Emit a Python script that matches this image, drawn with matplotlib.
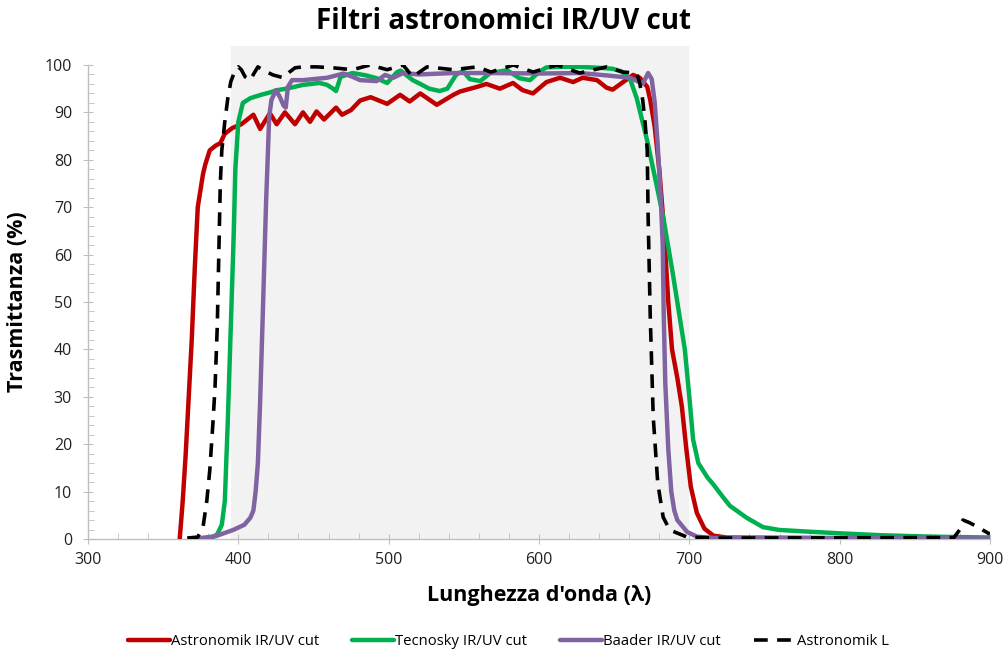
import matplotlib.pyplot as plt
import numpy as np
from matplotlib.patches import Rectangle
from matplotlib.ticker import MultipleLocator

plt.rcParams['font.family'] = ['Open Sans', 'DejaVu Sans']

# Astronomik IR/UV cut
red_x = [361, 363, 365, 367, 369, 371, 373, 376.5, 378, 381, 385, 388, 391, 396, 402,
         406, 410, 414.5, 418, 421, 425.5, 431, 437.7, 443, 447.7, 452, 457, 465, 469,
         475, 481, 488, 499, 507.6, 514, 521, 532, 543, 547.5, 559, 565, 574, 582.7,
         589, 596, 605, 614, 622.7, 629, 638.6, 645, 649, 656, 662.6, 667, 672, 674,
         677, 680, 683, 686, 688.5, 692, 695, 698, 701, 705, 710, 716, 725, 800, 900]
red_y = [0, 8, 18, 30, 42, 57, 70, 77, 79, 82, 83, 83.5, 85.5, 86.7, 87.5,
         88.5, 89.5, 86.5, 88.3, 89.8, 87.5, 90, 87.5, 90, 88, 90.2, 88.5, 91, 89.5,
         90.5, 92.5, 93.2, 91.8, 93.7, 92.3, 94, 91.6, 93.7, 94.4, 95.4, 96, 95, 96.2,
         94.7, 94, 96.4, 97.3, 96.4, 97.3, 96.8, 95.2, 94.8, 96.4, 97.9, 97.3, 95.4, 92.6,
         86.9, 78, 66, 50, 40, 34, 28, 19, 11, 5.5, 2.2, 0.7, 0.3, 0.2, 0.2]

# Tecnosky IR/UV cut
green_x = [381, 386, 389, 391, 393, 395, 397, 398, 400, 403, 408, 415, 421, 426, 432,
           443, 454, 459, 463, 465, 468, 476, 485, 492, 499, 505.6, 508, 516, 521, 527,
           534, 539, 545, 549.5, 554, 561, 567.5, 578.8, 587, 594, 600, 605, 615, 627,
           640, 649, 655, 660.6, 665, 672, 678, 682.6, 689, 693, 697, 700, 702.5, 706,
           712, 716, 722, 727, 738, 749, 760, 782, 800, 827, 860, 900]
green_y = [0, 1, 3, 8, 25, 45, 65, 78, 88, 92, 93, 93.7, 94.2, 94.7, 95,
           95.8, 96.2, 95.8, 95, 94.5, 97.5, 98.3, 97.8, 97.2, 96.2, 98.5, 98.8, 96.8, 96, 95,
           94.5, 95, 98, 98.7, 97, 96.6, 98.3, 98.9, 97.2, 96.8, 98.5, 99.5, 99.6, 99.6,
           99.4, 99.2, 98.6, 97, 93, 84, 75, 68, 56, 48, 40, 30, 21, 16,
           13, 11.5, 9, 7, 4.5, 2.5, 1.9, 1.5, 1.2, 0.8, 0.5, 0.3]

# Baader IR/UV cut
purple_x = [372.5, 385, 396.5, 404, 408, 410, 411.5, 413, 414.5, 416.5, 418.5, 419.5,
            420.5, 422, 425, 427.7, 430, 431.5, 433, 435.7, 443, 459, 470, 476, 481,
            492, 497.6, 503, 509.6, 520, 543, 567.5, 600, 627, 645, 660.6, 666, 669,
            672.6, 675, 677, 679, 681, 682.3, 683, 684, 686, 688, 690, 692, 698.5, 705,
            716, 900]
purple_y = [0.1, 0.6, 1.9, 3, 4.5, 6, 10, 16, 29, 50, 71.5, 80,
            89, 92.6, 94.7, 93.2, 91.5, 91, 95.4, 96.8, 96.8, 97.3, 98.2, 97.5, 96.8,
            96.6, 97.9, 97.3, 98.3, 98, 98.3, 98.3, 98.2, 98.3, 97.8, 97.3, 96.5, 96,
            98.3, 97, 92, 83, 72, 62, 47, 33, 19, 10, 6, 4, 1.5, 0.5,
            0.2, 0.1]

# Astronomik L
black_x = [366, 373, 376.5, 379, 381, 383, 384.5, 386, 387, 388, 389, 391, 393, 395,
           398, 400, 402, 404.5, 408, 410, 413, 416, 423, 430, 434, 437.7, 443, 452,
           463, 476, 487.6, 499, 509.6, 516, 525.5, 543, 559, 568, 583, 596, 612, 627,
           645, 656, 665, 667, 669, 670.6, 672, 672.6, 674, 676, 679, 682.6, 687, 698.5,
           720, 876, 880, 882, 886, 892, 900]
black_y = [0.2, 0.4, 2.5, 8, 14.5, 24, 32, 45, 60, 75, 82, 88, 93, 96.5,
           99, 99.6, 99, 97.5, 96.8, 98, 99.6, 99, 97.9, 97.3, 98.5, 99.4, 99.6, 99.6,
           99.4, 99, 100, 99, 100, 97.5, 99.6, 99, 99.6, 98.5, 100, 98.5, 100, 98.3,
           99.6, 98.5, 98.3, 96.2, 92.6, 87.8, 82, 68, 47, 25.7, 11.8, 4.6, 1.9, 0.4,
           0.2, 0.3, 2, 4, 3.5, 2.5, 1]

band_start, band_end = 395, 700

fig = plt.figure(figsize=(10.07, 6.53), dpi=100)
ax = fig.add_axes([0.0874, 0.1746, 0.8957, 0.7259])

# shaded visible band, reaches a bit above the 100% line
ax.add_patch(Rectangle((band_start, 0), band_end - band_start, 104,
                       facecolor='#f2f2f2', edgecolor='none', zorder=0, clip_on=False))

line_kw = dict(solid_joinstyle='round', solid_capstyle='round')
ax.plot(red_x, red_y, color='#c00000', lw=3.2, label='Astronomik IR/UV cut', zorder=3, **line_kw)
ax.plot(green_x, green_y, color='#00b050', lw=3.2, label='Tecnosky IR/UV cut', zorder=3, **line_kw)
ax.plot(purple_x, purple_y, color='#8064a2', lw=3.2, label='Baader IR/UV cut', zorder=4, **line_kw)
ax.plot(black_x, black_y, color='black', lw=2.6, ls=(0, (3.8, 2.6)), label='Astronomik L', zorder=5)

ax.set_xlim(300, 900)
ax.set_ylim(0, 100)
ax.xaxis.set_major_locator(MultipleLocator(100))
ax.xaxis.set_minor_locator(MultipleLocator(20))
ax.yaxis.set_major_locator(MultipleLocator(10))
ax.yaxis.set_minor_locator(MultipleLocator(2))

for s in ['top', 'right']:
    ax.spines[s].set_visible(False)
for s in ['left', 'bottom']:
    ax.spines[s].set_color('#bfbfbf')
    ax.spines[s].set_linewidth(1)

ax.tick_params(which='major', direction='inout', length=7, color='#bfbfbf',
               labelsize=11.5, labelcolor='#222222')
ax.tick_params(which='minor', direction='in', length=4, color='#bfbfbf')
ax.tick_params(axis='x', pad=6)
ax.tick_params(axis='y', pad=8)
ax.set_facecolor('none')

ax.set_xlabel("Lunghezza d'onda (λ)", fontsize=15.5, fontweight='bold', labelpad=12)
ax.set_ylabel('Trasmittanza (%)', fontsize=15.5, fontweight='bold', labelpad=12)
fig.suptitle('Filtri astronomici IR/UV cut', fontsize=20, fontweight='bold', x=0.5, y=0.99)

fig.legend(loc='center', bbox_to_anchor=(0.505, 0.018), ncol=4, frameon=False,
           fontsize=10.7, handlelength=2.8, handletextpad=0.1, columnspacing=2.2)

fig.savefig('out.png', dpi=100)
